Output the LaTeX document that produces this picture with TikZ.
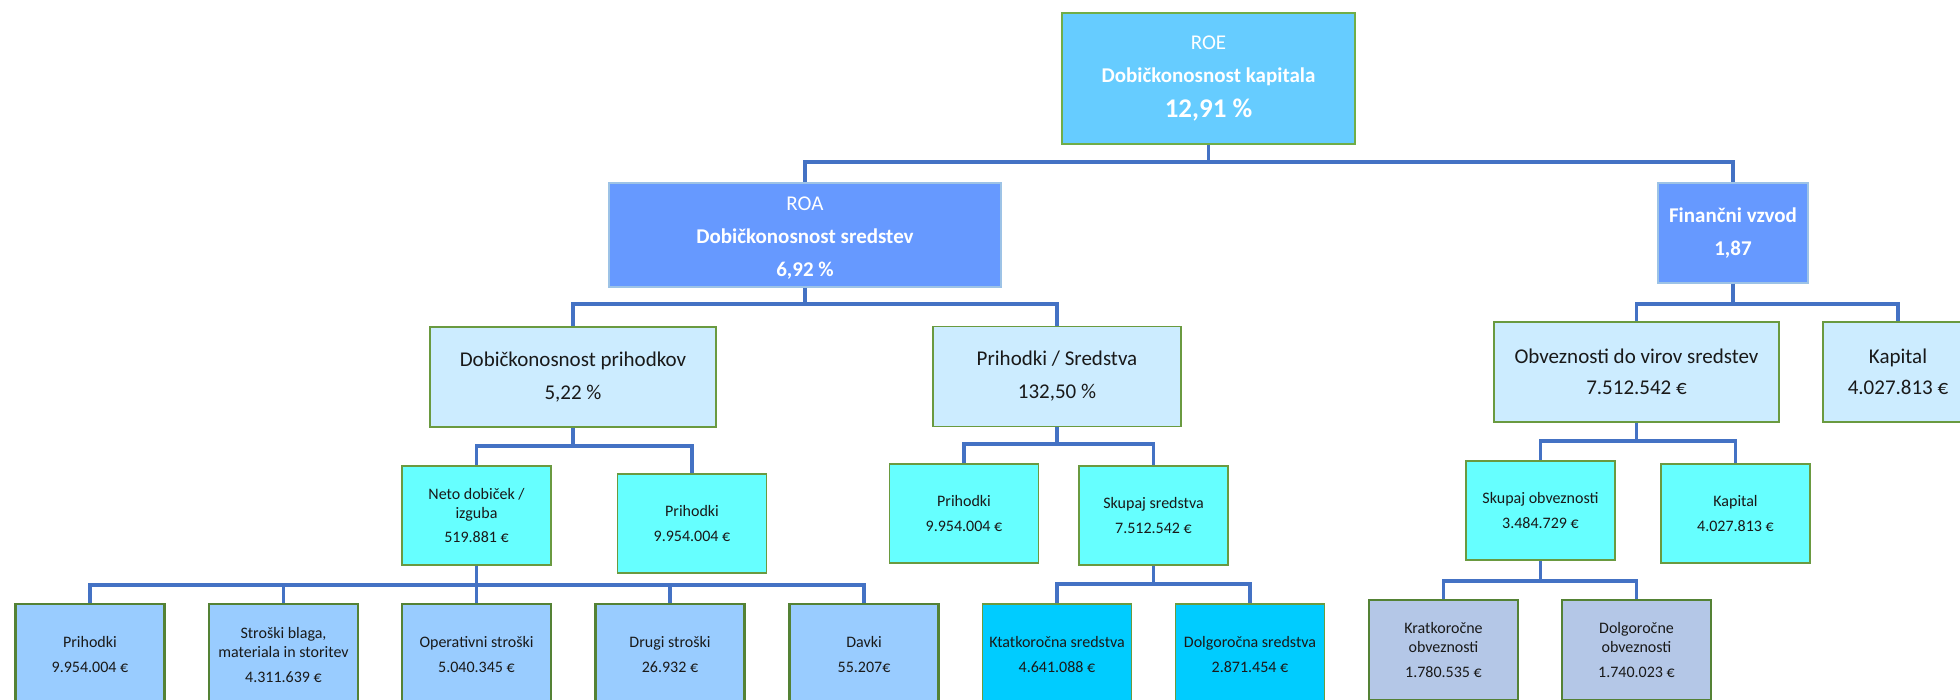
\documentclass[tikz,border=0pt]{standalone}
\usepackage{fontspec}
\setmainfont{Carlito}
\definecolor{roeFill}{HTML}{66CCFF}
\definecolor{roeLine}{HTML}{70AD47}
\definecolor{roaFill}{HTML}{6699FF}
\definecolor{roaLine}{HTML}{9DC3E6}
\definecolor{paleFill}{HTML}{CCECFF}
\definecolor{aquaFill}{HTML}{66FFFF}
\definecolor{leafFill}{HTML}{99CCFF}
\definecolor{assetFill}{HTML}{00CCFF}
\definecolor{debtFill}{HTML}{B4C7E7}
\definecolor{boxGreen}{HTML}{6A9A40}
\definecolor{leafGreen}{HTML}{548235}
\definecolor{linkBlue}{HTML}{4472C4}

\begin{document}
\begin{tikzpicture}[x=0.5pt,y=-0.5pt,
  box/.style={draw,inner sep=0pt,align=center,text=black!90},
  roebox/.style={box,fill=roeFill,draw=roeLine,line width=1pt,text=white,font=\fontsize{10.5}{16.5}\selectfont},
  roabox/.style={box,fill=roaFill,draw=roaLine,line width=0.8pt,text=white,font=\fontsize{10.5}{16.5}\selectfont},
  palebox/.style={box,fill=paleFill,draw=boxGreen,line width=0.75pt,minimum height=50pt,font=\fontsize{10.5}{15.5}\selectfont},
  aquabox/.style={box,fill=aquaFill,draw=boxGreen,line width=0.75pt,minimum width=74.5pt,minimum height=49.5pt,font=\fontsize{8}{9.5}\selectfont},
  leafbox/.style={box,fill=leafFill,draw=leafGreen,line width=1.4pt,minimum width=74.5pt,minimum height=51pt,font=\fontsize{8}{9.5}\selectfont},
  assetbox/.style={leafbox,fill=assetFill,draw=boxGreen,line width=0.75pt},
  debtbox/.style={leafbox,fill=debtFill,minimum height=50pt},
  link/.style={draw=linkBlue,line width=1.7pt}]
  \useasboundingbox (0,0) rectangle (1960,700);
  \clip (0,0) rectangle (1960,700);
  % bus levels
  \coordinate (b1) at (0,162);
  \coordinate (b2) at (0,304);
  \coordinate (b3a) at (0,446);
  \coordinate (b3b) at (0,444);
  \coordinate (b3c) at (0,441);
  \coordinate (b4a) at (0,585);
  \coordinate (b4b) at (0,584);
  \coordinate (b4c) at (0,581);
  % level 0
  \node[roebox,minimum width=146.5pt,minimum height=65.5pt] (roe) at (1208.5,78.5)
    {ROE\\\textbf{Dobičkonosnost kapitala}\\[1pt]{\fontsize{13.5}{16}\selectfont\bfseries 12,91 \%}};
  % level 1
  \node[roabox,minimum width=196pt,minimum height=52pt] (roa) at (805,235)
    {\rule{0pt}{10pt}ROA\\\textbf{Dobičkonosnost sredstev}\\\textbf{6,92 \%}};
  \node[roabox,minimum width=75pt,minimum height=50pt] (fv) at (1733,233)
    {\textbf{Finančni vzvod}\\\textbf{1,87}};
  % level 2
  \node[palebox,minimum width=143pt] (dp) at (573,377) {Dobičkonosnost prihodkov\\[1pt]5,22 \%};
  \node[palebox,minimum width=124pt] (ps) at (1057,376.5) {Prihodki / Sredstva\\[1pt]132,50 \%};
  \node[palebox,minimum width=142.5pt] (ob) at (1636.5,372) {Obveznosti do virov sredstev\\7.512.542 €};
  \node[palebox,minimum width=75pt] (kap) at (1898,372) {Kapital\\4.027.813 €};
  % level 3
  \node[aquabox] (neto) at (476.5,515.5) {Neto dobiček /\\izguba\\[2.5pt]519.881 €};
  \node[aquabox] (prih) at (692,523.5) {Prihodki\\[3pt]9.954.004 €};
  \node[aquabox] (prihb) at (964,513.5) {Prihodki\\[3pt]9.954.004 €};
  \node[aquabox] (ss) at (1153.5,515.5) {Skupaj sredstva\\[3pt]7.512.542 €};
  \node[aquabox] (so) at (1540.5,510.5) {Skupaj obveznosti\\[3pt]3.484.729 €};
  \node[aquabox] (kapb) at (1735.5,513.5) {Kapital\\[3pt]4.027.813 €};
  % level 4
  \foreach \n/\x/\t in {l1/90/{Prihodki\\[3pt]9.954.004 €},
      l2/283.5/{Stroški blaga,\\materiala in storitev\\[3pt]4.311.639 €},
      l3/476.5/{Operativni stroški\\[3pt]5.040.345 €},
      l4/670/{Drugi stroški\\[3pt]26.932 €},
      l5/864/{Davki\\[3pt]55.207€}}
    { \node[leafbox] (\n) at (\x,655) {\t}; }
  \node[assetbox] (kts) at (1057,655) {Ktatkoročna sredstva\\[3pt]4.641.088 €};
  \node[assetbox] (dgs) at (1250,655) {Dolgoročna sredstva\\[3pt]2.871.454 €};
  \node[debtbox] (ko) at (1443.5,650) {Kratkoročne\\obveznosti\\[3pt]1.780.535 €};
  \node[debtbox] (do) at (1636.5,650) {Dolgoročne\\obveznosti\\[3pt]1.740.023 €};
  % connectors
  \foreach \c in {roa,fv} { \draw[link] (roe.south) -- (roe.south |- b1) -| (\c.north); }
  \foreach \c in {dp,ps} { \draw[link] (roa.south) -- (roa.south |- b2) -| (\c.north); }
  \foreach \c in {ob,kap} { \draw[link] (fv.south) -- (fv.south |- b2) -| (\c.north); }
  \foreach \c in {neto,prih} { \draw[link] (dp.south) -- (dp.south |- b3a) -| (\c.north); }
  \foreach \c in {prihb,ss} { \draw[link] (ps.south) -- (ps.south |- b3b) -| (\c.north); }
  \foreach \c in {so,kapb} { \draw[link] (ob.south) -- (ob.south |- b3c) -| (\c.north); }
  \foreach \c in {l1,l2,l3,l4,l5} { \draw[link] (neto.south) -- (neto.south |- b4a) -| (\c.north); }
  \foreach \c in {kts,dgs} { \draw[link] (ss.south) -- (ss.south |- b4b) -| (\c.north); }
  \foreach \c in {ko,do} { \draw[link] (so.south) -- (so.south |- b4c) -| (\c.north); }
\end{tikzpicture}
\end{document}
